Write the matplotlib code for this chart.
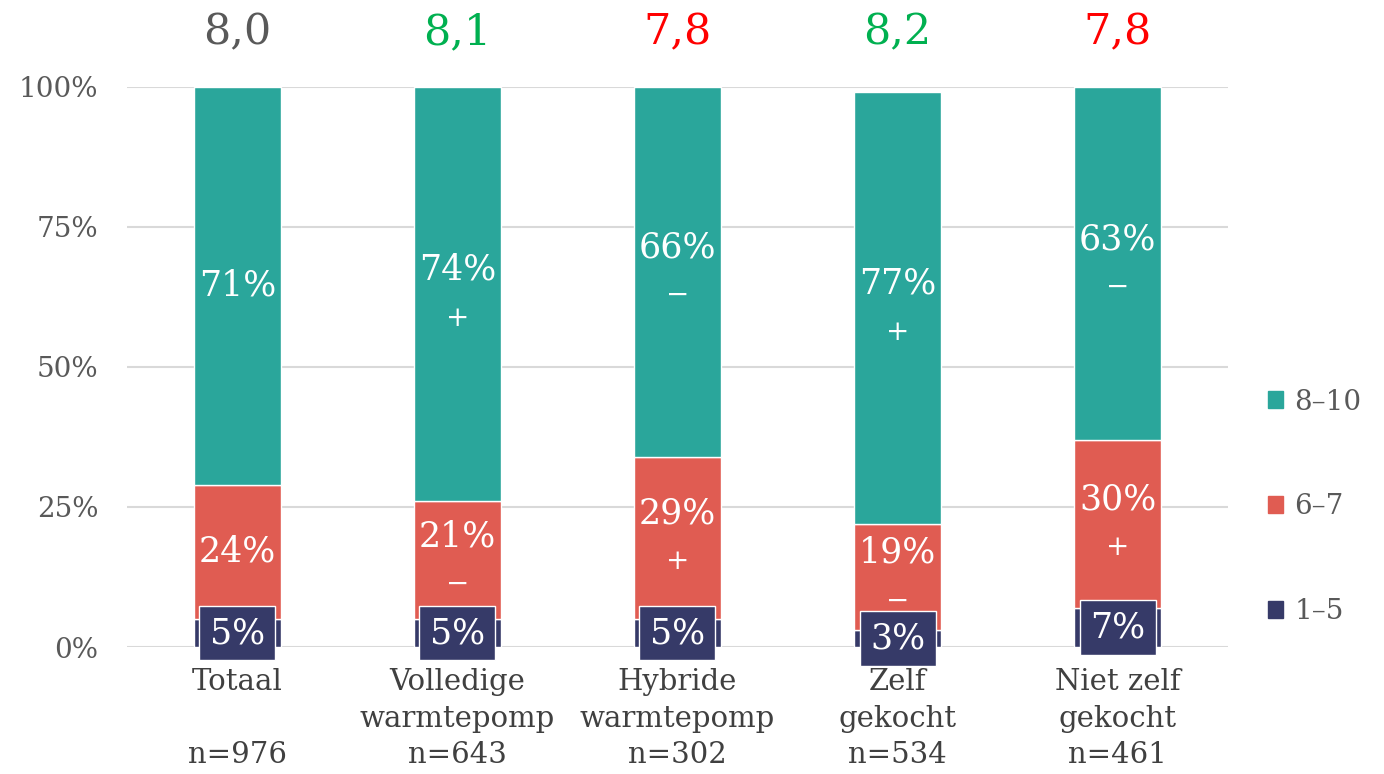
import matplotlib.pyplot as plt
from matplotlib.patches import Patch

plt.rcParams['font.family'] = ['DejaVu Serif']

categorieen = ["Totaal\n\nn=976", "Volledige\nwarmtepomp\nn=643", "Hybride\nwarmtepomp\nn=302",
               "Zelf\ngekocht\nn=534", "Niet zelf\ngekocht\nn=461"]
laag = [5, 5, 5, 3, 7]          # 1-5
midden = [24, 21, 29, 19, 30]   # 6-7
hoog = [71, 74, 66, 77, 63]     # 8-10
teken_midden = ["", "−", "+", "−", "+"]
teken_hoog = ["", "+", "−", "+", "−"]
gemiddelde = ["8,0", "8,1", "7,8", "8,2", "7,8"]
gem_kleur = ["#595959", "#00B050", "#FF0000", "#00B050", "#FF0000"]

c_hoog = "#2AA69B"
c_mid = "#E05C52"
c_laag = "#363A68"

fig = plt.figure(figsize=(13.84, 7.74), dpi=100)
ax = fig.add_axes([0.092, 0.164, 0.795, 0.724])

x = list(range(len(categorieen)))
w = 0.395
bottom_mid = laag
bottom_hoog = [a + b for a, b in zip(laag, midden)]

ax.bar(x, laag, w, color=c_laag, edgecolor="white", linewidth=1, zorder=2)
ax.bar(x, midden, w, bottom=bottom_mid, color=c_mid, edgecolor="white", linewidth=1, zorder=2)
ax.bar(x, hoog, w, bottom=bottom_hoog, color=c_hoog, edgecolor="white", linewidth=1, zorder=2)

lbl = 25
for i in x:
    # 8-10
    yc = bottom_hoog[i] + hoog[i] / 2
    if teken_hoog[i]:
        ax.text(i, yc + 4.3, f"{hoog[i]}%", ha="center", va="center", color="white", fontsize=lbl, zorder=4)
        ax.text(i, yc - 4.3, teken_hoog[i], ha="center", va="center", color="white", fontsize=lbl - 5, zorder=4)
    else:
        ax.text(i, yc, f"{hoog[i]}%", ha="center", va="center", color="white", fontsize=lbl, zorder=4)
    # 6-7
    yc = bottom_mid[i] + midden[i] / 2
    if teken_midden[i]:
        ax.text(i, yc + 4.3, f"{midden[i]}%", ha="center", va="center", color="white", fontsize=lbl, zorder=4)
        ax.text(i, yc - 4.3, teken_midden[i], ha="center", va="center", color="white", fontsize=lbl - 5, zorder=4)
    else:
        ax.text(i, yc, f"{midden[i]}%", ha="center", va="center", color="white", fontsize=lbl, zorder=4)
    # 1-5 in box
    ax.text(i, laag[i] / 2, f"{laag[i]}%", ha="center", va="center", color="white", fontsize=lbl, zorder=5,
            clip_on=False,
            bbox=dict(boxstyle="square,pad=0.3", facecolor=c_laag, edgecolor="white", linewidth=1))
    # gemiddelde boven
    ax.text(i, 109.7, gemiddelde[i], ha="center", va="center", color=gem_kleur[i], fontsize=31, clip_on=False)

ax.set_xlim(-0.5, 4.5)
ax.set_ylim(0, 100)
ax.set_yticks([0, 25, 50, 75, 100])
ax.set_yticklabels(["0%", "25%", "50%", "75%", "100%"])
ax.set_xticks(x)
ax.set_xticklabels(categorieen, linespacing=1.4)
ax.tick_params(axis="y", length=0, pad=21, labelsize=20, labelcolor="#595959")
ax.tick_params(axis="x", length=0, pad=15, labelsize=21, labelcolor="#404040")
ax.yaxis.grid(True, color="#D9D9D9", linewidth=1.5, zorder=0)
ax.set_axisbelow(True)
for s in ax.spines.values():
    s.set_visible(False)

handles = [Patch(color=c_hoog), Patch(color=c_mid), Patch(color=c_laag)]
ax.legend(handles, ["8–10", "6–7", "1–5"], loc="center left", bbox_to_anchor=(1.014, 0.25),
          frameon=False, fontsize=20, labelcolor="#595959", handlelength=0.55, handleheight=0.55,
          handletextpad=0.4, labelspacing=2.8)

fig.savefig("out.png", dpi=100)
